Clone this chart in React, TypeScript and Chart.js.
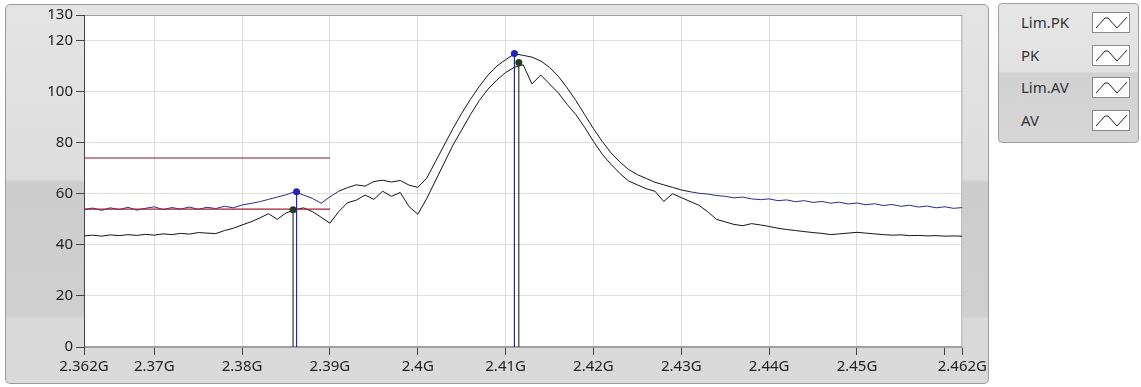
import React, { useEffect, useRef } from 'react';
import { Chart, registerables } from 'chart.js';

Chart.register(...registerables);

// Frequency axis (GHz), one sample per MHz
const freqGHz = [
  2.362, 2.363, 2.364, 2.365, 2.366, 2.367, 2.368, 2.369, 2.37, 2.371,
  2.372, 2.373, 2.374, 2.375, 2.376, 2.377, 2.378, 2.379, 2.38, 2.381,
  2.382, 2.383, 2.384, 2.385, 2.386, 2.387, 2.388, 2.389, 2.39, 2.391,
  2.392, 2.393, 2.394, 2.395, 2.396, 2.397, 2.398, 2.399, 2.4, 2.401,
  2.402, 2.403, 2.404, 2.405, 2.406, 2.407, 2.408, 2.409, 2.41, 2.411,
  2.412, 2.413, 2.414, 2.415, 2.416, 2.417, 2.418, 2.419, 2.42, 2.421,
  2.422, 2.423, 2.424, 2.425, 2.426, 2.427, 2.428, 2.429, 2.43, 2.431,
  2.432, 2.433, 2.434, 2.435, 2.436, 2.437, 2.438, 2.439, 2.44, 2.441,
  2.442, 2.443, 2.444, 2.445, 2.446, 2.447, 2.448, 2.449, 2.45, 2.451,
  2.452, 2.453, 2.454, 2.455, 2.456, 2.457, 2.458, 2.459, 2.46, 2.461,
  2.462,
];

const pkLevel = [
  53.8, 54.4, 53.5, 54.5, 53.8, 54.7, 53.6, 54.3, 54.9, 53.8,
  54.6, 54.0, 54.8, 53.9, 54.7, 54.2, 55.1, 54.5, 55.6, 56.2,
  56.9, 57.8, 58.7, 59.6, 60.8, 59.5, 58.2, 56.3, 58.8, 61.0,
  62.4, 63.5, 63.0, 64.8, 65.3, 64.6, 65.2, 63.4, 62.5, 66.0,
  72.5, 79.0, 85.5, 91.5, 97.0, 102.0, 106.5, 110.0, 112.5, 114.8,
  114.2, 113.5, 112.0, 109.5, 106.0, 101.5, 96.5, 91.0, 85.5, 80.5,
  76.0, 72.5, 69.5, 67.5, 66.0, 64.5, 63.5, 62.5, 61.5, 60.8,
  60.2, 59.9, 59.3, 59.0, 58.4, 58.7, 58.0, 57.7, 58.0, 57.3,
  57.6, 56.9, 57.3, 56.6, 57.0, 56.3, 56.7, 56.0, 56.4, 55.7,
  56.1, 55.4, 55.8, 55.1, 55.5, 54.8, 55.2, 54.5, 54.9, 54.3,
  54.6,
];

const avLevel = [
  43.5, 43.8, 43.4, 43.9, 43.6, 44.0, 43.7, 44.1, 43.8, 44.3,
  44.0, 44.5, 44.2, 44.8, 44.6, 44.4, 45.6, 46.5, 47.8, 49.0,
  50.5, 52.2, 50.0, 52.5, 53.7, 54.5, 53.0, 50.8, 48.5, 53.0,
  56.5, 57.5, 59.5, 57.8, 61.0, 59.0, 60.5, 55.0, 52.0, 58.0,
  65.0, 72.0, 79.0, 85.0, 91.0, 96.5, 101.0, 104.5, 107.5, 109.5,
  110.5, 103.0, 106.5, 103.0, 99.5, 95.0, 91.0, 86.0, 80.5, 75.5,
  71.5, 68.0, 65.0, 63.5, 62.0, 61.0, 57.0, 60.0, 58.5, 57.0,
  55.5, 53.0, 50.0, 49.0, 48.0, 47.5, 48.3, 47.8, 47.2, 46.5,
  46.0, 45.6, 45.2, 44.8, 44.5, 44.0, 44.3, 44.6, 44.9, 44.6,
  44.3, 44.0, 43.8, 43.9, 43.6, 43.7, 43.5, 43.6, 43.4, 43.5,
  43.4,
];

// Limit lines
const limFreq = [2.362, 2.39];
const limPkLevel = [74, 74];
const limAvLevel = [54, 54];

// Peak markers
const pkMarkerFreq = [2.3862, 2.411];
const pkMarkerLevel = [60.8, 114.9];
const avMarkerFreq = [2.3858, 2.4115];
const avMarkerLevel = [53.7, 111.4];

const xTicks = [2.362, 2.37, 2.38, 2.39, 2.4, 2.41, 2.42, 2.43, 2.44, 2.45, 2.46, 2.462];
const yTicks = [0, 20, 40, 60, 80, 100, 120, 130];

const legendItems = ['Lim.PK', 'PK', 'Lim.AV', 'AV'];

const FONT = { family: "'Noto Sans', sans-serif", size: 15 };

function markerSets(freqs: number[], levels: number[], color: string) {
  return freqs.map((f, i) => ({
    type: 'line' as const,
    data: [
      { x: f, y: levels[i] },
      { x: f, y: 0 },
    ],
    borderColor: color,
    backgroundColor: color,
    borderWidth: 1.2,
    pointRadius: [3.5, 0],
    pointBorderWidth: 0,
    pointBackgroundColor: color,
    tension: 0,
  }));
}

const bgPlugin = {
  id: 'plotBg',
  beforeDraw(chart: any) {
    const { ctx, chartArea: a } = chart;
    ctx.save();
    ctx.fillStyle = '#ffffff';
    ctx.fillRect(a.left, a.top, a.right - a.left, a.bottom - a.top);
    ctx.restore();
  },
  beforeDatasetsDraw(chart: any) {
    const { ctx, chartArea: a } = chart;
    ctx.save();
    ctx.strokeStyle = '#a0a0a0';
    ctx.lineWidth = 1;
    ctx.strokeRect(a.left + 0.5, a.top + 0.5, a.right - a.left - 1, a.bottom - a.top - 1);
    ctx.strokeStyle = '#444';
    ctx.beginPath();
    ctx.moveTo(a.left + 0.5, a.top);
    ctx.lineTo(a.left + 0.5, a.bottom);
    ctx.stroke();
    ctx.restore();
  },
};

function Icon() {
  return (
    <svg width={38} height={21} style={{ display: 'block' }}>
      <rect x={0.5} y={0.5} width={37} height={20} fill="#fff" stroke="#8a8a8a" />
      <polyline points="4,16 13,6 16,6 25,16 35,5" fill="none" stroke="#222" strokeWidth={1} />
    </svg>
  );
}

export default function App() {
  const ref = useRef<HTMLCanvasElement | null>(null);

  useEffect(() => {
    if (!ref.current) return;
    const pkColor = '#2b2b8c';
    const chart = new Chart(ref.current, {
      type: 'line',
      data: {
        datasets: [
          ...markerSets(pkMarkerFreq, pkMarkerLevel, '#2424b8'),
          ...markerSets(avMarkerFreq, avMarkerLevel, '#22401c'),
          {
            label: 'Lim.PK',
            data: limFreq.map((f, i) => ({ x: f, y: limPkLevel[i] })),
            borderColor: '#861437',
            borderWidth: 1.2,
            pointRadius: 0,
          },
          {
            label: 'Lim.AV',
            data: limFreq.map((f, i) => ({ x: f, y: limAvLevel[i] })),
            borderColor: '#a81b3a',
            borderWidth: 1.2,
            pointRadius: 0,
          },
          {
            label: 'PK',
            data: freqGHz.map((f, i) => ({ x: f, y: pkLevel[i] })),
            borderColor: pkColor,
            borderWidth: 1,
            pointRadius: 0,
            segment: {
              borderColor: (c: any) =>
                Math.max(c.p0.parsed.y, c.p1.parsed.y) > 61 ? '#161616' : pkColor,
            },
          },
          {
            label: 'AV',
            data: freqGHz.map((f, i) => ({ x: f, y: avLevel[i] })),
            borderColor: '#141414',
            borderWidth: 1,
            pointRadius: 0,
          },
        ] as any,
      },
      options: {
        animation: false,
        responsive: false,
        devicePixelRatio: 1,
        layout: { padding: { left: 0, right: 27, top: 15, bottom: 0 } },
        plugins: { legend: { display: false }, tooltip: { enabled: false } },
        scales: {
          x: {
            type: 'linear',
            min: 2.362,
            max: 2.462,
            afterBuildTicks: (s: any) => {
              s.ticks = xTicks.map((v) => ({ value: v }));
            },
            afterFit: (s: any) => {
              s.height = 40;
            },
            ticks: {
              autoSkip: false,
              maxRotation: 0,
              padding: 3,
              color: '#222',
              font: FONT,
              callback: (v: any) => (Math.abs(v - 2.46) < 1e-9 ? '' : `${+Number(v).toFixed(3)}G`),
            },
            grid: {
              color: (c: any) =>
                c.tick && (Math.abs(c.tick.value - 2.46) < 1e-9 || Math.abs(c.tick.value - 2.462) < 1e-9)
                  ? 'rgba(0,0,0,0)'
                  : '#dedede',
              tickLength: 8,
              tickColor: '#444',
            },
            border: { color: '#a0a0a0' },
          },
          y: {
            min: 0,
            max: 130,
            afterBuildTicks: (s: any) => {
              s.ticks = yTicks.map((v) => ({ value: v }));
            },
            afterFit: (s: any) => {
              s.width = 84;
            },
            ticks: { padding: 3, color: '#222', font: FONT },
            grid: { color: '#dedede', tickLength: 8, tickColor: '#444' },
            border: { color: '#444' },
          },
        },
      },
      plugins: [bgPlugin],
    });
    return () => chart.destroy();
  }, []);

  return (
    <div style={{ position: 'fixed', left: 0, top: 0, width: 1141, height: 387, background: '#fff' }}>
      <div
        style={{
          position: 'absolute',
          left: 5,
          top: 4,
          width: 984,
          height: 380,
          border: '1px solid #9c9c9c',
          borderRadius: 5,
          boxSizing: 'border-box',
          background:
            'linear-gradient(to bottom, #e4e4e4 0%, #dedede 46%, #cdcdcd 47%, #cfcfcf 82%, #d9d9d9 83%, #dadada 100%)',
        }}
      />
      <canvas ref={ref} width={990} height={387} style={{ position: 'absolute', left: 0, top: 0, width: 990, height: 387 }} />
      <div
        style={{
          position: 'absolute',
          left: 998,
          top: 3,
          width: 141,
          height: 140,
          border: '1px solid #a0a0a0',
          borderRadius: 4,
          boxSizing: 'border-box',
          overflow: 'hidden',
          background: 'linear-gradient(to bottom, #e6e6e6 0%, #e2e2e2 49%, #d2d2d2 50%, #d6d6d6 100%)',
          fontFamily: "'Noto Sans', sans-serif",
          fontSize: 15,
          color: '#333',
        }}
      >
        {legendItems.map((name, i) => (
          <div
            key={name}
            style={{
              position: 'absolute',
              left: 0,
              top: 7 + i * 32.5,
              height: 23,
              width: 139,
              display: 'flex',
              alignItems: 'center',
            }}
          >
            <span style={{ position: 'absolute', left: 22, lineHeight: '23px' }}>{name}</span>
            <span style={{ position: 'absolute', left: 93 }}>
              <Icon />
            </span>
          </div>
        ))}
      </div>
    </div>
  );
}
